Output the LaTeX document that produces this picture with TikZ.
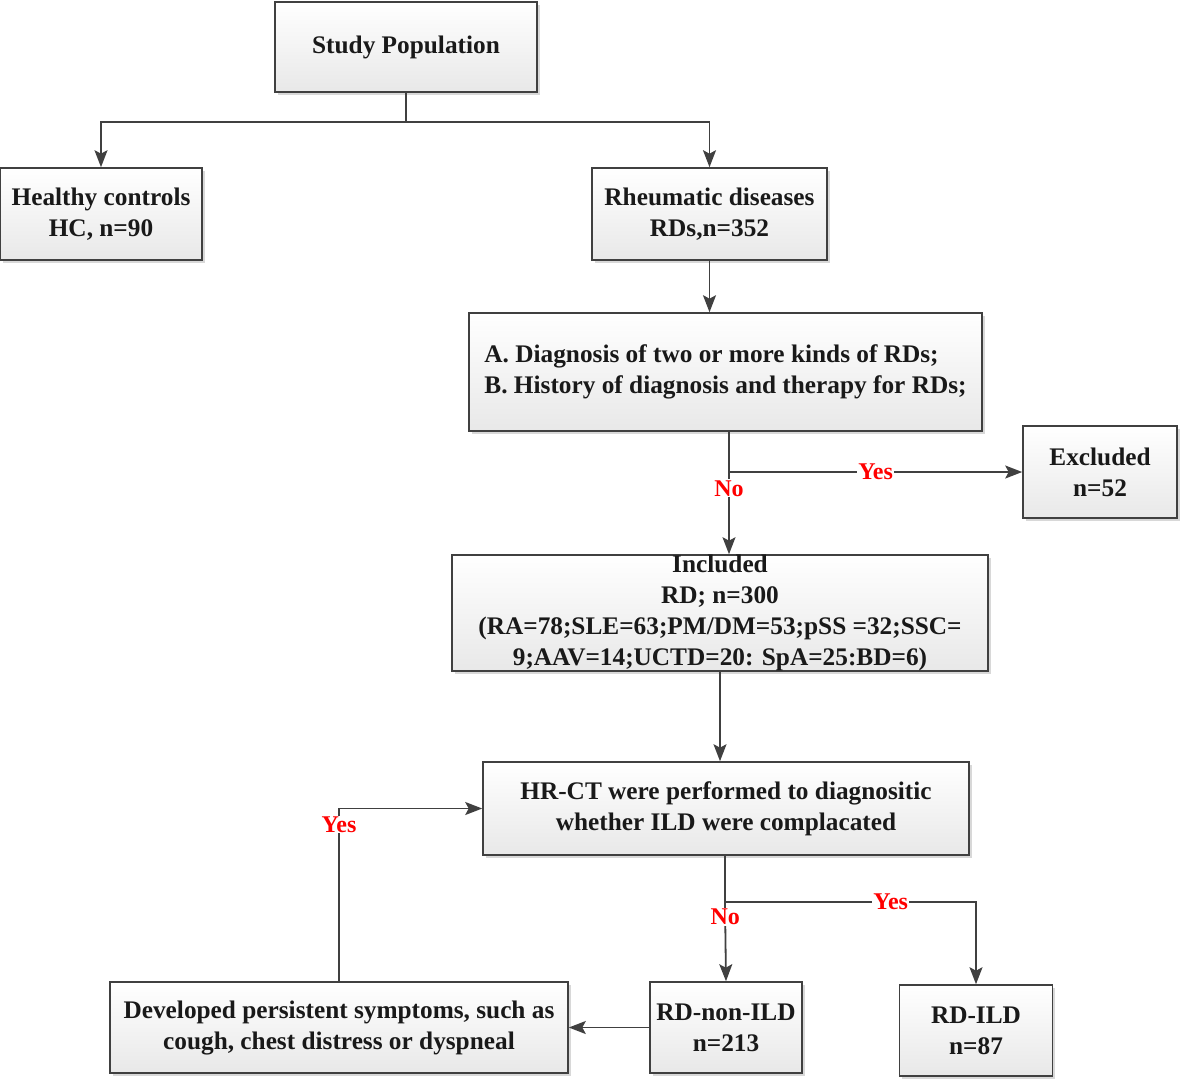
\documentclass[tikz,border=0pt]{standalone}
\usepackage{fontspec}
\setmainfont{Liberation Serif}
\usetikzlibrary{arrows.meta,shadows,calc}
\begin{document}
\begin{tikzpicture}[x=1pt,y=-1pt,
  box/.style={draw=black!75, line width=1.6pt, top color=white, bottom color=black!9,
    drop shadow={shadow xshift=2.5pt, shadow yshift=-2.5pt, fill=black!25, opacity=0.6},
    inner sep=0pt, font=\fontsize{25.3}{31}\selectfont\bfseries, align=center, text=black!90},
  conn/.style={draw=black!75, line width=1.8pt},
  arr/.style={conn, -{Stealth[length=17pt,width=13pt,inset=3.5pt]}},
  lab/.style={text=red, fill=white, inner sep=1pt, font=\fontsize{24}{28}\selectfont\bfseries}]
\useasboundingbox (0,0) rectangle (1181,1080);
\fill[white] (0,0) rectangle (1181,1080);

\node[box, minimum width=262pt, minimum height=90pt] (sp) at (406,47) {Study Population};
\node[box, minimum width=202pt, minimum height=92pt] (hc) at (101,214) {Healthy controls\\HC, n=90};
\node[box, minimum width=235pt, minimum height=92pt] (rd) at (709.5,214) {Rheumatic diseases\\RDs,n=352};
\node[box, minimum width=513pt, minimum height=118pt, align=left] (crit) at (725.5,372) {A. Diagnosis of two or more kinds of RDs;\\B. History of diagnosis and therapy for RDs;};
\node[box, minimum width=154pt, minimum height=92pt] (excl) at (1100,472) {Excluded\\n=52};
\node[box, minimum width=536pt, minimum height=116pt] (incl) at (720,613) {Included\\RD; n=300\\(RA=78;SLE=63;PM/DM=53;pSS =32;SSC=\\9;AAV=14;UCTD=20: SpA=25:BD=6)};
\node[box, minimum width=486pt, minimum height=93pt] (hrct) at (726,808.5) {HR-CT were performed to diagnositic\\whether ILD were complacated};
\node[box, minimum width=152pt, minimum height=91pt] (nonild) at (726,1027.5) {RD-non-ILD\\n=213};
\node[box, minimum width=153pt, minimum height=91pt] (ild) at (976,1030.5) {RD-ILD\\n=87};
\node[box, minimum width=458pt, minimum height=91pt] (dev) at (339,1027.5) {Developed persistent symptoms, such as\\cough, chest distress or dyspneal};

% top split
\coordinate (j1) at (406,122);
\draw[conn] (sp.south) -- (j1);
\draw[arr] (j1) -| (hc.north);
\draw[arr] (j1) -| (rd.north);

\draw[arr] (rd.south) -- (rd.south |- crit.north);

% exclusion split
\coordinate (c1) at (729,472);
\draw[conn] (crit.south -| c1) -- (c1);
\draw[arr] (c1) -- node[lab]{Yes} (excl.west);
\draw[arr] (c1) -- node[lab, pos=0.2]{No} (c1 |- incl.north);

\draw[arr] (incl.south) -- (incl.south |- hrct.north);

% ILD split
\coordinate (c2) at (725,902);
\draw[conn] (hrct.south -| c2) -- (c2);
\draw[arr] (c2) -| node[lab, pos=0.33]{Yes} (ild.north);
\draw[arr] (c2) -- node[lab, pos=0.19]{No} (nonild.north);

\draw[arr] (nonild.west) -- (dev.east);

% feedback
\coordinate (c3) at (dev.north |- hrct.west);
\draw[arr] (dev.north) |- (hrct.west);
\node[lab] (yes3) at ($(c3)+(0,16)$) {Yes};
\end{tikzpicture}
\end{document}
